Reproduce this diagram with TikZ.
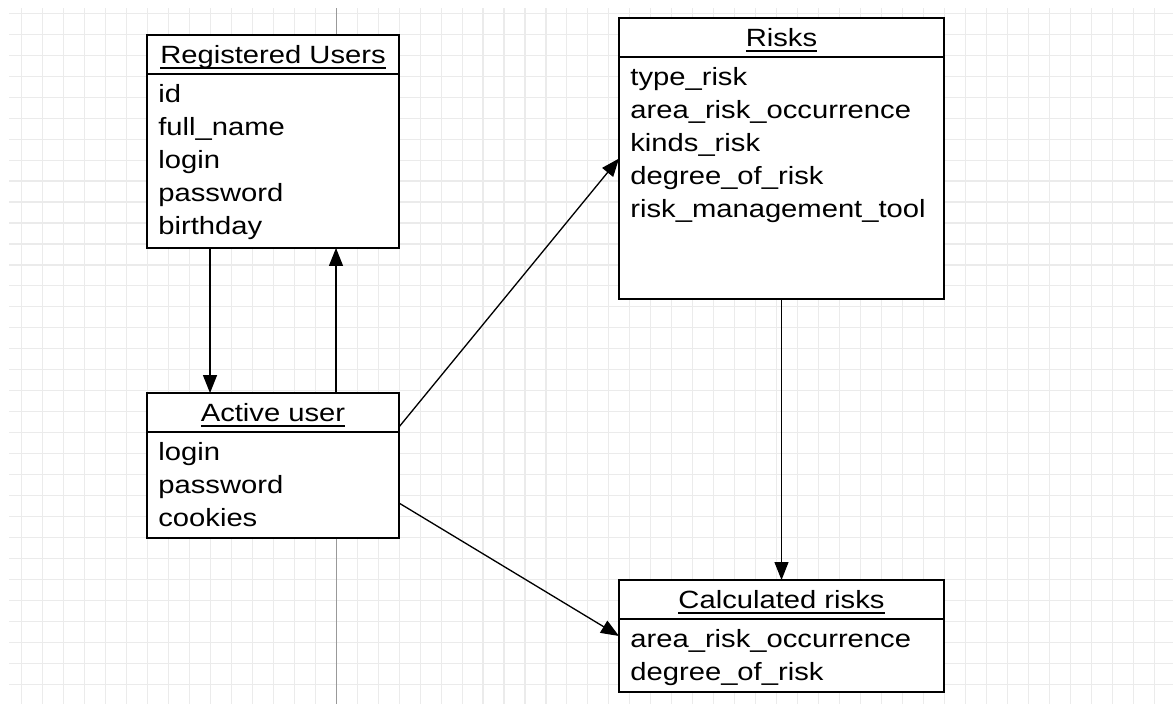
\documentclass[tikz,border=0pt]{standalone}
\usepackage{fontspec}
\setmainfont{Liberation Sans}[FakeStretch=1.17]
\usepackage{tikz}
\usetikzlibrary{arrows.meta, calc}

% underlined table heading, line at a fixed depth
\newsavebox{\headbox}
\newcommand{\headtext}[1]{\sbox{\headbox}{#1}\rlap{\usebox{\headbox}}\rule[-0.12cm]{\wd\headbox}{1.1pt}}

\begin{document}
\begin{tikzpicture}[
    x=0.02cm, y=-0.02cm,
    gridline/.style={line width=0.65pt, black!8},
    pageline/.style={line width=0.6pt, black!40},
    table/.style={draw, fill=white, line width=1.1pt, inner sep=0pt, outer sep=0pt},
    title/.style={anchor=base, inner sep=0pt, font=\fontsize{14.2pt}{18.8pt}\selectfont},
    fields/.style={anchor=north west, align=left, inner sep=0pt, font=\fontsize{14.2pt}{18.8pt}\selectfont},
    divider/.style={line width=0.75pt},
    arrow/.style={line width=0.75pt, -{Triangle[length=0.36cm, width=0.28cm]}}
]
% paper with grid
\fill[white] (0,0) rectangle (1173,704);
\useasboundingbox (0,0) rectangle (1173,704);
\foreach \i in {0,...,54}
    \draw[gridline] (21.7+\i*20.97,8) -- (21.7+\i*20.97,704);
\foreach \j in {0,...,32}
    \draw[gridline] (9,13.3+\j*20.97) -- (1173,13.3+\j*20.97);
\draw[pageline] (336.2,8) -- (336.2,704);

% tables
\node (reg) [table, minimum width=5.04cm, minimum height=4.26cm] at (273,141.5) {};
\node (regtitle) [title] at ([yshift=-0.56cm]reg.north) {\headtext{Registered Users}};
\draw[divider] ([yshift=-0.78cm]reg.north west) -- ([yshift=-0.78cm]reg.north east);
\node (regfields) [fields] at ([shift={(0.22cm,-0.982cm)}]reg.north west) {id\\full\_name\\login\\password\\birthday};

\node (active) [table, minimum width=5.04cm, minimum height=2.90cm] at (273,465.5) {};
\node (activetitle) [title] at ([yshift=-0.56cm]active.north) {\headtext{Active user}};
\draw[divider] ([yshift=-0.78cm]active.north west) -- ([yshift=-0.78cm]active.north east);
\node (activefields) [fields] at ([shift={(0.22cm,-0.982cm)}]active.north west) {login\\password\\cookies};

\node (risks) [table, minimum width=6.5cm, minimum height=5.62cm] at (781.5,158.5) {};
\node (riskstitle) [title] at ([yshift=-0.56cm]risks.north) {\headtext{Risks}};
\draw[divider] ([yshift=-0.78cm]risks.north west) -- ([yshift=-0.78cm]risks.north east);
\node (risksfields) [fields] at ([shift={(0.22cm,-0.982cm)}]risks.north west) {type\_risk\\area\_risk\_occurrence\\kinds\_risk\\degree\_of\_risk\\risk\_management\_tool};

\node (calc) [table, minimum width=6.5cm, minimum height=2.24cm] at (781.5,636) {};
\node (calctitle) [title] at ([yshift=-0.56cm]calc.north) {\headtext{Calculated risks}};
\draw[divider] ([yshift=-0.78cm]calc.north west) -- ([yshift=-0.78cm]calc.north east);
\node (calcfields) [fields] at ([shift={(0.22cm,-0.982cm)}]calc.north west) {area\_risk\_occurrence\\degree\_of\_risk};

% links
\draw[arrow] ($(reg.south west)!0.25!(reg.south east)$) -- ($(active.north west)!0.25!(active.north east)$);
\draw[arrow] ($(active.north west)!0.75!(active.north east)$) -- ($(reg.south west)!0.75!(reg.south east)$);
\draw[arrow] ([yshift=0.77cm]active.east) -- (risks.west);
\draw[arrow] ([yshift=-0.75cm]active.east) -- (calc.west);
\draw[arrow] (risks.south) -- (calc.north);
\end{tikzpicture}
\end{document}
